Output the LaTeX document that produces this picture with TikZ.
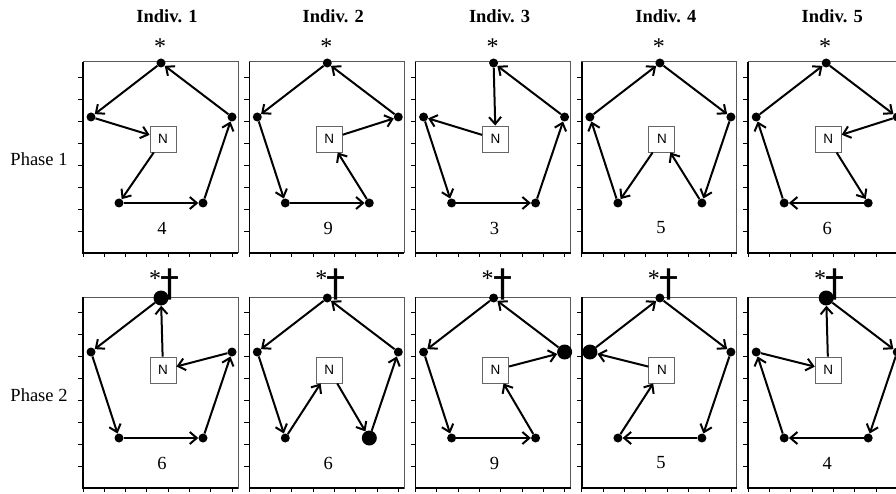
\documentclass[tikz,border=0pt]{standalone}
\usepackage{fontspec}
\setmainfont{Liberation Serif}
\newfontfamily\boxfont{Liberation Sans}
\newfontfamily\markfont{DejaVu Sans}
\usetikzlibrary{arrows.meta}

\begin{document}
\begin{tikzpicture}[x=1pt, y=-1pt,
  dot/.style={circle, fill, inner sep=0pt, minimum size=9pt},
  nest/.style={draw=gray!80!black, line width=0.9pt, fill=white, minimum size=26pt, inner sep=0pt,
    font=\boxfont\fontsize{13.5}{13.5}\selectfont},
  move/.style={-{Straight Barb[length=7pt,width=12pt]}, line width=2pt},
  lab/.style={font=\fontsize{18.5}{18.5}\selectfont}]
  \useasboundingbox (0,0) rectangle (896,494);
  \clip (0,0) rectangle (896,494);

  % Headers
  \foreach \i in {1,...,5}
    \node[font=\bfseries\fontsize{18.5}{18.5}\selectfont] (head\i) at ({166.3*(\i-1)+167}, 16) {Indiv. \i};
  \node[lab] (phase1) at (39,159) {Phase 1};
  \node[lab] (phase2) at (39,395) {Phase 2};

  % Panels
  \foreach \col/\row/\bigdot/\score/\edges in {
    0/0/-/4/{T/L,L/N,N/BL,BL/BR,BR/R,R/T},
    1/0/-/9/{T/L,L/BL,BL/BR,BR/N,N/R,R/T},
    2/0/-/3/{T/N,N/L,L/BL,BL/BR,BR/R,R/T},
    3/0/-/5/{L/T,T/R,R/BR,BR/N,N/BL,BL/L},
    4/0/-/6/{L/T,T/R,R/N,N/BR,BR/BL,BL/L},
    0/1/T/6/{N/T,T/L,L/BL,BL/BR,BR/R,R/N},
    1/1/BR/6/{T/L,L/BL,BL/N,N/BR,BR/R,R/T},
    2/1/R/9/{T/L,L/BL,BL/BR,BR/N,N/R,R/T},
    3/1/L/5/{L/T,T/R,R/BR,BR/BL,BL/N,N/L},
    4/1/T/4/{N/T,T/R,R/BR,BR/BL,BL/L,L/N}} {
    \pgfmathsetmacro\px{83+166.3*\col}
    \pgfmathsetmacro\py{\row==0 ? 62 : 297}
    \pgfmathsetmacro\ny{\row==0 ? 77 : 73}
    \begin{scope}[shift={(\px,\py)}]
      % frame and axes
      \draw[gray!70!black, line width=1pt] (0,0) rectangle (155,191);
      \draw[line width=1.5pt] (0,0) -- (0,191) -- (155,191);
      \foreach \k in {1,...,8}
        \draw[line width=1pt] (0,{191-21.9*\k}) -- ++(-5,0);
      \foreach \k in {0,...,7}
        \draw[line width=1pt] ({21.3*\k},191) -- ++(0,4);

      % sites
      \foreach \n/\x/\y in {T/78/1, L/8/55, R/149/55, BL/36/141, BR/120/141} {
        \ifx\n\bigdot \def\dotsize{15pt}\else \def\dotsize{9pt}\fi
        \node[dot, minimum size=\dotsize] (p\col\row\n) at (\x,\y) {};
      }
      \node[nest] (p\col\row N) at (80,\ny) {N};

      % moves
      \foreach \a/\b in \edges
        \draw[move] (p\col\row\a) -- (p\col\row\b);

      \node[lab] (score\col\row) at (79,166) {\score};
    \end{scope}
    % marks above panel
    \ifnum\row=0
      \node[font=\fontsize{24}{24}\selectfont] (star\col\row) at ({\px+77},47) {*};
    \else
      \node[font=\fontsize{24}{24}\selectfont] (star\col\row) at ({\px+72},279) {*};
      \node[font=\markfont\fontsize{38}{38}\selectfont] (dag\col) at ({\px+87},284) {\textdagger};
    \fi
  }
\end{tikzpicture}
\end{document}
